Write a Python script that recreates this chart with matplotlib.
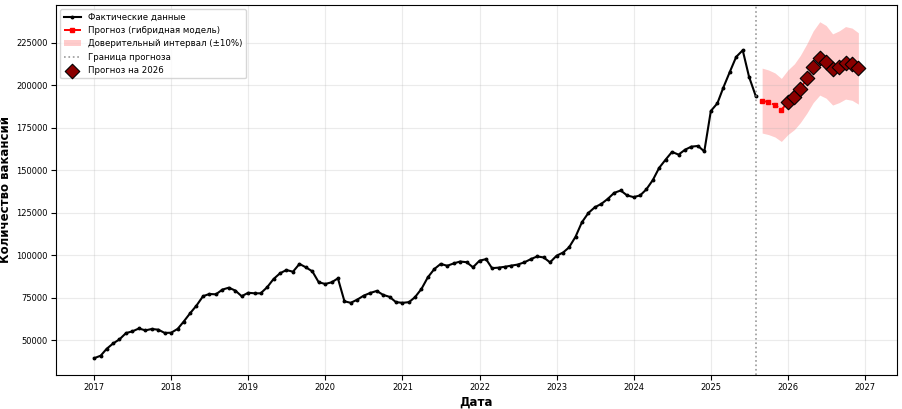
# Вакансии: факт + прогноз на 2026
import matplotlib
matplotlib.use('Agg')
import matplotlib.pyplot as plt
import matplotlib.dates as mdates
import numpy as np
import pandas as pd

# фактические данные, помесячно с 2017-01 по 2025-08
actual_values = [
    39500, 41000, 45000, 48200, 50600, 54300, 55300, 57000, 55900, 56700, 56300, 54400,  # 2017
    54500, 56800, 61000, 66000, 70500, 76000, 77300, 77100, 79900, 81000, 79300, 76000,  # 2018
    78000, 77700, 77700, 81300, 86100, 89500, 91400, 90400, 95000, 93000, 90600, 84200,  # 2019
    83200, 84200, 86500, 73000, 72100, 74000, 76300, 77900, 79100, 76800, 75600, 72500,  # 2020
    72100, 72500, 75400, 80300, 87100, 92000, 95000, 93900, 95300, 96400, 96000, 93000,  # 2021
    96900, 97800, 92500, 92800, 93300, 94000, 94600, 95900, 97800, 99400, 98800, 95900,  # 2022
    99800, 101700, 104700, 111000, 119500, 125000, 128300, 130300, 133300, 136800, 138200, 135300,  # 2023
    134300, 135300, 138800, 144300, 151500, 156400, 160900, 159300, 162200, 164000, 164400, 161200,  # 2024
    185000, 189500, 198700, 208000, 216800, 220700, 205100, 194000,  # 2025
]
# прогноз (гибридная модель) 2025-09 .. 2025-12
forecast_2025 = [191100, 190100, 188500, 185600]
# прогноз на 2026
forecast_2026 = [190100, 193400, 197900, 204100, 211000, 215900,
                 213900, 209400, 211000, 213300, 212500, 210000]

dates = pd.date_range('2017-01-01', periods=len(actual_values), freq='MS')
fc_values = np.array(forecast_2025 + forecast_2026)
fc_dates = pd.date_range(dates[-1] + pd.DateOffset(months=1), periods=len(fc_values), freq='MS')
dates_2026 = fc_dates[len(forecast_2025):]

fig, ax = plt.subplots(figsize=(9.02, 4.09), dpi=100)

ax.plot(dates, actual_values, color='black', linewidth=1.5, marker='o', markersize=1.8,
        label='Фактические данные')
ax.plot(fc_dates, fc_values, color='red', linestyle='--', linewidth=1.4, marker='s', markersize=2.5,
        label='Прогноз (гибридная модель)')
ax.fill_between(fc_dates, fc_values * 0.9, fc_values * 1.1, color='red', alpha=0.2, linewidth=0,
                label='Доверительный интервал (±10%)')
ax.axvline(dates[-1], color='gray', linestyle=':', linewidth=1.2, alpha=0.8, label='Граница прогноза')
ax.scatter(dates_2026, forecast_2026, marker='D', s=55, color='#8B0000', edgecolor='black',
           linewidth=0.8, zorder=5, label='Прогноз на 2026')

ax.xaxis.set_major_locator(mdates.YearLocator())
ax.xaxis.set_major_formatter(mdates.DateFormatter('%Y'))
ax.tick_params(labelsize=6, pad=2.5)
ax.set_xlabel('Дата', fontsize=8.5, fontweight='bold', labelpad=2)
ax.set_ylabel('Количество вакансий', fontsize=8.5, fontweight='bold', labelpad=3)
ax.grid(True, alpha=0.25)
ax.legend(loc='upper left', fontsize=6.2)

fig.subplots_adjust(left=0.062, right=0.994, top=0.988, bottom=0.083)
fig.savefig('out.png', dpi=100)
